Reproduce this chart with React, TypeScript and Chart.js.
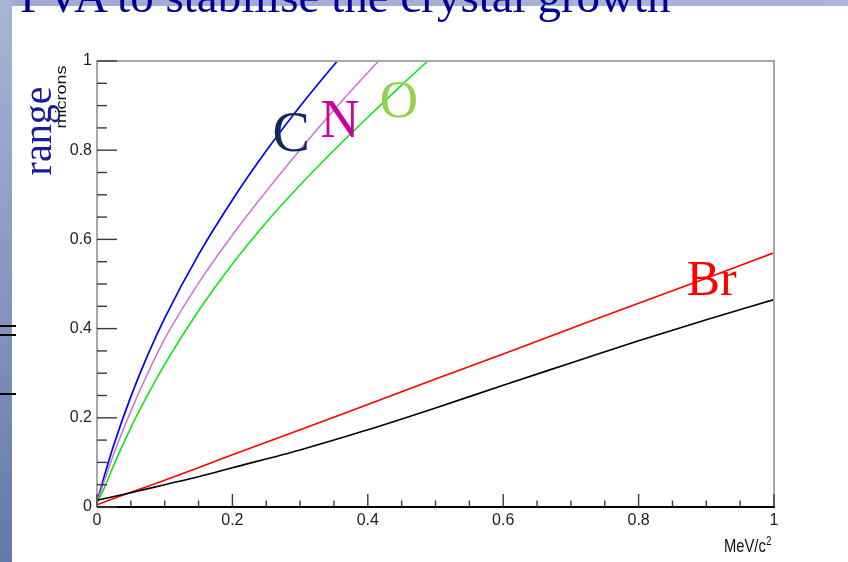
import React, { useEffect, useRef } from "react";
import { Chart, registerables } from "chart.js";

Chart.register(...registerables);

// ---- data (energy in MeV/c^2, range in microns) ----
const energyC = [0, 0.01, 0.025, 0.05, 0.075, 0.1, 0.15, 0.2, 0.25, 0.3, 0.35, 0.4];
const rangeC = [0.01, 0.065, 0.14, 0.2475, 0.341, 0.4235, 0.566, 0.6885, 0.7985, 0.8985, 0.991, 1.0785];

const energyN = [0, 0.01, 0.025, 0.05, 0.075, 0.1, 0.15, 0.2, 0.25, 0.3, 0.35, 0.4, 0.45];
const rangeN = [0.01, 0.055, 0.12, 0.215, 0.3, 0.377, 0.502, 0.61, 0.708, 0.801, 0.89, 0.974, 1.054];

const energyO = [0, 0.01, 0.025, 0.05, 0.075, 0.1, 0.15, 0.2, 0.25, 0.3, 0.35, 0.4, 0.45, 0.5];
const rangeO = [0.01, 0.04, 0.095, 0.178, 0.252, 0.32, 0.44, 0.545, 0.638, 0.722, 0.8, 0.874, 0.946, 1.016];

const energyBr = [0, 0.05, 0.1, 0.2, 0.3, 0.4, 0.5, 0.6, 0.7, 0.8, 0.9, 1.0];
const rangeBr = [0.005, 0.033, 0.06, 0.117, 0.173, 0.23, 0.287, 0.343, 0.4, 0.457, 0.513, 0.57];

const energyBlack = [0, 0.05, 0.1, 0.15, 0.2, 0.3, 0.4, 0.5, 0.6, 0.7, 0.8, 0.9, 1.0];
const rangeBlack = [0.015, 0.032, 0.05, 0.068, 0.088, 0.128, 0.173, 0.222, 0.273, 0.323, 0.373, 0.42, 0.465];

const xTickLabels = ["0", "0.2", "0.4", "0.6", "0.8", "1"];
const yTickLabels = ["0", "0.2", "0.4", "0.6", "0.8", "1"];

const elementNames = ["C", "N", "O", "Br"];
const elementEnergy = [0.287, 0.359, 0.446, 0.908];
const elementRange = [0.798, 0.83, 0.874, 0.475];

// ---- styles ----
const elementColors = ["#0f2a5c", "#cc0099", "#92d050", "#ff0000"];
const elementFontSizes = [56, 54, 53, 50];

const pts = (xs: number[], ys: number[]) => xs.map((x, i) => ({ x, y: ys[i] }));

const framePlugin = {
  id: "rootFrame",
  afterDatasetsDraw(chart: any) {
    const { ctx, chartArea: a, scales } = chart;
    const xs = scales.x;
    const ys = scales.y;
    ctx.save();
    // frame
    ctx.lineWidth = 2;
    ctx.strokeStyle = "#a9a9a9";
    ctx.beginPath();
    ctx.moveTo(a.left, a.bottom);
    ctx.lineTo(a.left, a.top);
    ctx.lineTo(a.right, a.top);
    ctx.lineTo(a.right, a.bottom);
    ctx.stroke();
    ctx.strokeStyle = "#000000";
    ctx.beginPath();
    ctx.moveTo(a.left, a.bottom);
    ctx.lineTo(a.right + 1, a.bottom);
    ctx.stroke();
    // ticks
    ctx.strokeStyle = "#3a3a3a";
    ctx.lineWidth = 1.4;
    for (let i = 0; i <= 20; i++) {
      const v = i * 0.05;
      const major = i % 4 === 0;
      const py = ys.getPixelForValue(v);
      ctx.beginPath();
      ctx.moveTo(a.left, py);
      ctx.lineTo(a.left + (major ? 20 : 10), py);
      ctx.stroke();
      const px = xs.getPixelForValue(v);
      ctx.beginPath();
      ctx.moveTo(px, a.bottom);
      ctx.lineTo(px, a.bottom - (major ? 13 : 6.5));
      ctx.stroke();
    }
    // element labels
    ctx.textAlign = "center";
    ctx.textBaseline = "alphabetic";
    for (let i = 0; i < elementNames.length; i++) {
      ctx.font = `${elementFontSizes[i]}px "Liberation Serif", "Times New Roman", serif`;
      ctx.fillStyle = elementColors[i];
      ctx.fillText(elementNames[i], xs.getPixelForValue(elementEnergy[i]), ys.getPixelForValue(elementRange[i]));
    }
    ctx.restore();
  },
};

const tickFont = { family: "'Liberation Sans Narrow', 'Liberation Sans', Arial, sans-serif", size: 16 };

function RangeChart() {
  const ref = useRef<HTMLCanvasElement | null>(null);
  useEffect(() => {
    if (!ref.current) return;
    const line = (data: any, color: string, width = 1.6) => ({
      data,
      borderColor: color,
      backgroundColor: color,
      borderWidth: width,
      pointRadius: 0,
      fill: false,
      cubicInterpolationMode: "monotone" as const,
    });
    const chart = new Chart(ref.current, {
      type: "line",
      data: {
        datasets: [
          line(pts(energyBlack, rangeBlack), "#000000", 1.6),
          line(pts(energyBr, rangeBr), "#ff0000", 1.6),
          line(pts(energyO, rangeO), "#00ee00", 1.5),
          line(pts(energyN, rangeN), "#d070d8", 1.5),
          line(pts(energyC, rangeC), "#0000ff", 1.7),
        ],
      },
      options: {
        responsive: false,
        animation: false,
        devicePixelRatio: 1,
        layout: { padding: { left: 0, top: 61, right: 74, bottom: 0 } },
        plugins: { legend: { display: false }, tooltip: { enabled: false } },
        scales: {
          x: {
            type: "linear",
            min: 0,
            max: 1,
            afterFit: (s: any) => {
              s.height = 55;
            },
            grid: { display: false, drawTicks: false },
            border: { display: false },
            ticks: {
              stepSize: 0.2,
              autoSkip: false,
              maxRotation: 0,
              padding: 4,
              color: "#1e1e1e",
              font: tickFont,
              callback: (_v: any, i: number) => xTickLabels[i],
            },
          },
          y: {
            type: "linear",
            min: 0,
            max: 1,
            afterFit: (s: any) => {
              s.width = 97;
            },
            grid: { display: false, drawTicks: false },
            border: { display: false },
            ticks: {
              stepSize: 0.2,
              autoSkip: false,
              padding: 5,
              color: "#1e1e1e",
              font: tickFont,
              callback: (_v: any, i: number) => yTickLabels[i],
            },
          },
        },
      },
      plugins: [framePlugin],
    });
    return () => chart.destroy();
  }, []);
  return <canvas ref={ref} width={848} height={562} style={{ position: "absolute", left: 0, top: 0, display: "block" }} />;
}

export default function App() {
  return (
    <div
      style={{
        position: "fixed",
        left: 0,
        top: 0,
        width: 848,
        height: 562,
        background: "#ffffff",
        overflow: "hidden",
      }}
    >
      <RangeChart />
      {/* slide decorations */}
      <div style={{ position: "absolute", left: 0, top: 0, width: 848, height: 6, background: "linear-gradient(to right, #9eabcf, #aab5d5)" }} />
      <div style={{ position: "absolute", left: 0, top: 0, width: 12, height: 562, background: "linear-gradient(to bottom, #a9b5d6, #6379ab)" }} />
      <div style={{ position: "absolute", left: 0, top: 325, width: 16, height: 2, background: "#000" }} />
      <div style={{ position: "absolute", left: 0, top: 334, width: 16, height: 2, background: "#000" }} />
      <div style={{ position: "absolute", left: 0, top: 393, width: 16, height: 2, background: "#000" }} />
      <div
        style={{
          position: "absolute",
          left: 20,
          top: -27.4,
          font: '47px/47px "Liberation Serif", "Times New Roman", serif',
          color: "#000099",
          whiteSpace: "nowrap",
        }}
      >
        PVA to stabilise the crystal growth
      </div>
      <div
        style={{
          position: "absolute",
          left: 37.5,
          top: 131,
          transform: "translate(-50%, -50%) rotate(-90deg)",
          font: '40px/40px "Liberation Serif", "Times New Roman", serif',
          color: "#1a1a9c",
          whiteSpace: "nowrap",
        }}
      >
        range
      </div>
      <div
        style={{
          position: "absolute",
          left: 61,
          top: 96.5,
          transform: "translate(-50%, -50%) rotate(-90deg) scaleY(0.82)",
          font: '18px/18px "Liberation Sans", Arial, sans-serif',
          color: "#111",
          whiteSpace: "nowrap",
        }}
      >
        microns
      </div>
      <div
        style={{
          position: "absolute",
          left: 724,
          top: 537.3,
          transform: "scaleX(0.82)",
          transformOrigin: "left top",
          font: '18px/18px "Liberation Sans", Arial, sans-serif',
          color: "#111",
          whiteSpace: "nowrap",
        }}
      >
        MeV/c
      </div>
      <div
        style={{
          position: "absolute",
          left: 766,
          top: 534.8,
          transform: "scaleX(0.82)",
          transformOrigin: "left top",
          font: '12px/12px "Liberation Sans", Arial, sans-serif',
          color: "#111",
          whiteSpace: "nowrap",
        }}
      >
        2
      </div>
    </div>
  );
}
